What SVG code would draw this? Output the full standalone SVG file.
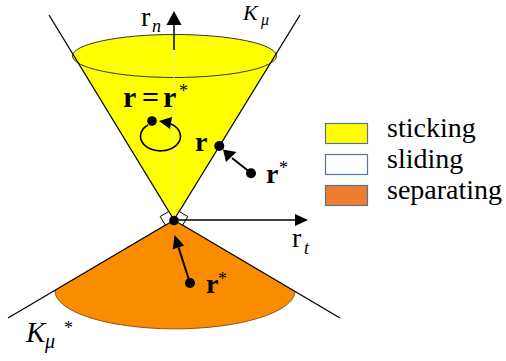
<svg xmlns="http://www.w3.org/2000/svg" width="506" height="361" viewBox="0 0 506 361">
<style>
text{font-family:'Liberation Serif','DejaVu Serif','Times New Roman',serif;fill:#000}
.b{font-weight:bold}
.i{font-style:italic}
.ln{stroke:#000;stroke-width:1.3;fill:none}
.sq{fill:#fff;stroke:#000;stroke-width:1}
.lg{stroke:#5B739B;stroke-width:1.2}
</style>
<rect width="506" height="361" fill="#fff"/>
<g id="upper-cone">
<polygon points="72.3,53 276.6,53 174,220" fill="#ffff00"/>
<ellipse cx="174.5" cy="56" rx="102" ry="21.5" fill="#ffff00" stroke="#333" stroke-width="1"/>
<line x1="174" y1="50" x2="174" y2="220" stroke="#f0f0a0" stroke-width="1"/>
<line class="ln" x1="49" y1="15" x2="174" y2="220"/>
<line class="ln" x1="300" y1="15" x2="174" y2="220"/>
</g>
<g id="lower-cone">
<path d="M174,220 L55,290.3 A120,38 0 0 0 295,291.4 Z" fill="#fa8c00"/>
<path d="M55,290.3 A120,38 0 0 0 295,291.4" fill="none" stroke="#8a5a10" stroke-width="1"/>
<line class="ln" x1="174" y1="220" x2="8" y2="318"/>
<line class="ln" x1="174" y1="220" x2="340" y2="318"/>
</g>
<g id="right-angles">
<polygon class="sq" points="174,220 168.8,211.5 160.2,216.5 165.4,225.1"/>
<polygon class="sq" points="174,220 179.2,211.5 187.8,216.6 182.6,225.1"/>
</g>
<g id="connectors">
<line x1="174" y1="24" x2="174" y2="50" stroke="#000" stroke-width="1.5"/>
<polygon points="174,11 166.5,25 181.5,25" fill="#000"/>
<line x1="174" y1="220" x2="296" y2="220" stroke="#000" stroke-width="1.5"/>
<polygon points="308,220 295,214 295,226" fill="#000"/>
<line x1="251" y1="173" x2="232" y2="158" stroke="#000" stroke-width="2"/>
<polygon points="223,149.5 236.5,152 226,162" fill="#000"/>
<line x1="190" y1="283" x2="178.5" y2="247.4" stroke="#000" stroke-width="2"/>
<polygon points="174.5,235 184.2,245.6 172.8,249.3" fill="#000"/>
<path d="M148,125 A20,14.5 0 1 0 171,124" fill="none" stroke="#000" stroke-width="1.6"/>
<polygon points="159,121 172,117 170,129" fill="#000"/>
</g>
<g id="points">
<circle cx="174" cy="220.5" r="4.8" fill="#000"/>
<circle cx="219.3" cy="146" r="5" fill="#000"/>
<circle cx="251" cy="173.3" r="5" fill="#000"/>
<circle cx="190" cy="283" r="5" fill="#000"/>
<circle cx="152" cy="121" r="4.8" fill="#000"/>
</g>
<g id="labels" font-family="Liberation Serif, serif">
<text x="141" y="26" font-size="28">r<tspan class="i" x="152" y="32" font-size="18">n</tspan></text>
<text x="292" y="247" font-size="28">r<tspan class="i" x="304" y="254" font-size="18">t</tspan></text>
<text class="i" x="243" y="19.5" font-size="22">K<tspan x="261" y="25" font-size="16">μ</tspan></text>
<text class="i" x="26" y="342" font-size="29">K<tspan x="45" y="348" font-size="20">μ</tspan></text>
<text x="64" y="334" font-size="18">*</text>
<text class="b" x="123" y="107" font-size="30">r<tspan x="142">=</tspan><tspan x="163">r</tspan></text>
<text x="179" y="97" font-size="18">*</text>
<text class="b" x="195" y="151" font-size="28">r</text>
<text class="b" x="266" y="183" font-size="28">r</text>
<text x="279" y="174" font-size="18">*</text>
<text class="b" x="206" y="293" font-size="28">r</text>
<text x="218" y="285" font-size="18">*</text>
</g>
<g id="legend-sticking">
<rect class="lg" x="325.5" y="123.5" width="42" height="20" fill="#ffff00"/>
<text x="387" y="137" font-size="28">sticking</text>
</g>
<g id="legend-sliding">
<rect class="lg" x="325.5" y="154.5" width="42" height="20" fill="#fff"/>
<text x="387" y="168" font-size="28">sliding</text>
</g>
<g id="legend-separating">
<rect class="lg" x="325.5" y="185.5" width="42" height="20" fill="#ed7d31"/>
<text x="387" y="199" font-size="28">separating</text>
</g>
</svg>
